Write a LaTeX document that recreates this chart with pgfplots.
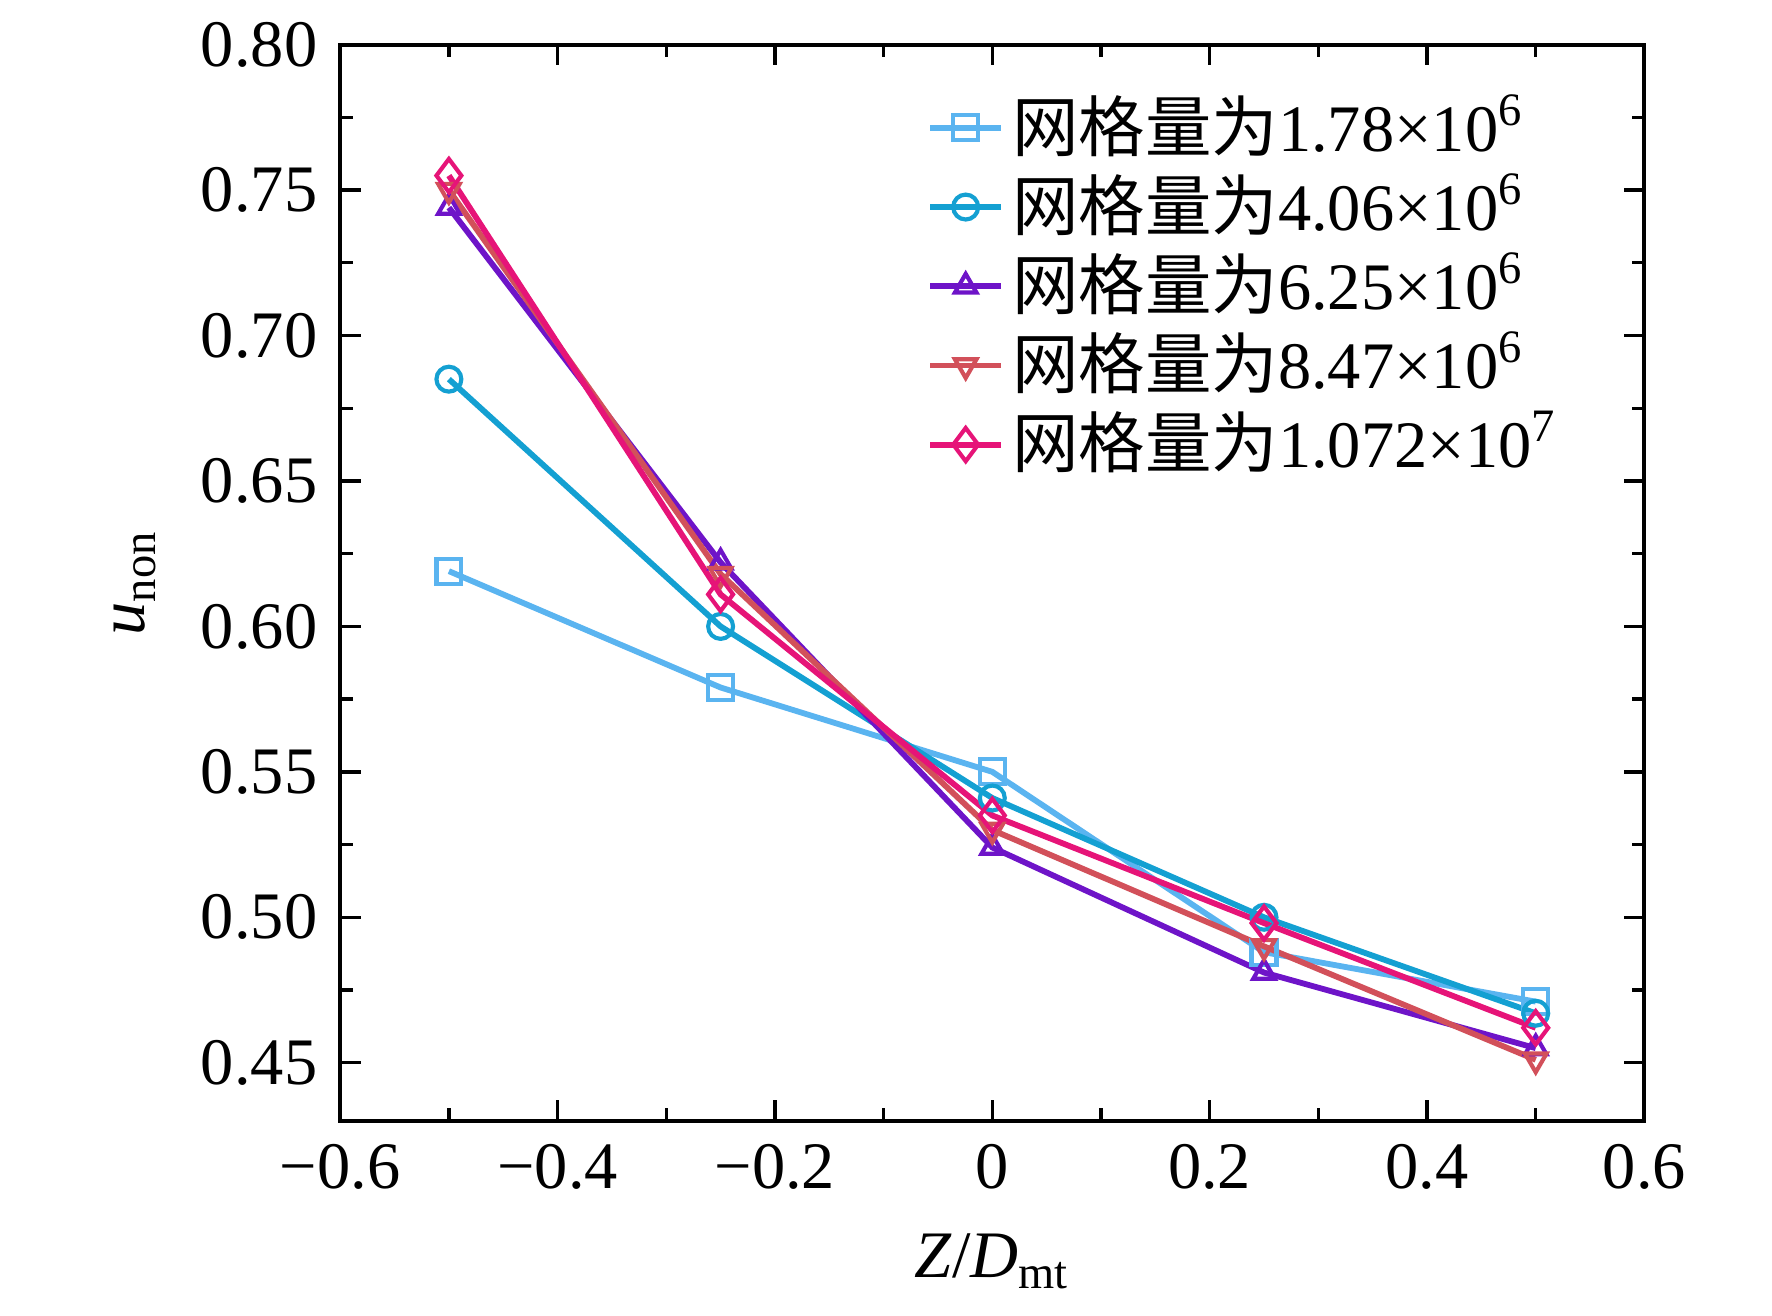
\documentclass[border=0pt]{standalone}
\usepackage{pgfplots}
\pgfplotsset{compat=1.18}
\usepackage{fontspec}
\setmainfont{Liberation Serif}
\newfontfamily\cjk{Noto Sans CJK SC}
\newcommand{\wg}{\mbox{\cjk 网格量为}}
\definecolor{c1}{RGB}{90,180,240}
\definecolor{c2}{RGB}{20,160,210}
\definecolor{c3}{RGB}{110,20,200}
\definecolor{c4}{RGB}{210,80,90}
\definecolor{c5}{RGB}{230,20,120}
\begin{document}
\fontsize{16}{19}\selectfont
\begin{tikzpicture}
\begin{axis}[
  scale only axis, width=11.04cm, height=9.11cm,
  xmin=-0.6, xmax=0.6, ymin=0.43, ymax=0.80,
  xtick={-0.6,-0.4,-0.2,0,0.2,0.4,0.6},
  xticklabels={−0.6,−0.4,−0.2,0,0.2,0.4,0.6},
  ytick={0.45,0.50,...,0.80},
  yticklabel style={/pgf/number format/.cd,fixed,fixed zerofill,precision=2},
  /pgf/number format/assume math mode=true,
  minor x tick num=1, minor y tick num=1,
  tick align=inside, axis line style={line width=1pt}, major tick length=5pt, minor tick length=3pt,
  every tick/.style={black, line width=0.8pt},
  xlabel={\textit{Z}/\textit{D}\textsubscript{mt}},
  ylabel={\textit{u}\textsubscript{non}},
  legend style={draw=none, fill=none, at={(0.44,0.97)}, anchor=north west, font=\fontsize{16}{19}\selectfont, row sep=-1pt},
  legend cell align=left,
  every axis plot/.append style={line width=1.4pt, mark size=3pt},
]
\addplot[c1, mark=square, mark options={solid, fill=white, line width=1pt}] coordinates {(-0.5,0.619)(-0.25,0.579)(0,0.550)(0.25,0.488)(0.5,0.471)};
\addlegendentry{\wg 1.78×10\textsuperscript{6}}
\addplot[c2, mark=o, mark options={solid, fill=white, line width=1pt}] coordinates {(-0.5,0.685)(-0.25,0.600)(0,0.541)(0.25,0.500)(0.5,0.467)};
\addlegendentry{\wg 4.06×10\textsuperscript{6}}
\addplot[c3, mark=triangle, mark options={solid, fill=white, line width=1pt}] coordinates {(-0.5,0.744)(-0.25,0.622)(0,0.524)(0.25,0.481)(0.5,0.455)};
\addlegendentry{\wg 6.25×10\textsuperscript{6}}
\addplot[c4, mark=triangle, mark options={solid, fill=white, line width=1pt, rotate=180}] coordinates {(-0.5,0.750)(-0.25,0.618)(0,0.530)(0.25,0.490)(0.5,0.451)};
\addlegendentry{\wg 8.47×10\textsuperscript{6}}
\addplot[c5, mark=diamond, mark size=4pt, mark options={solid, fill=white, line width=1pt}] coordinates {(-0.5,0.755)(-0.25,0.611)(0,0.535)(0.25,0.498)(0.5,0.462)};
\addlegendentry{\wg 1.072×10\textsuperscript{7}}
\end{axis}
\path[use as bounding box] (-2.88cm,-1.65cm) rectangle (12.12cm,9.38cm);
\end{tikzpicture}
\end{document}
